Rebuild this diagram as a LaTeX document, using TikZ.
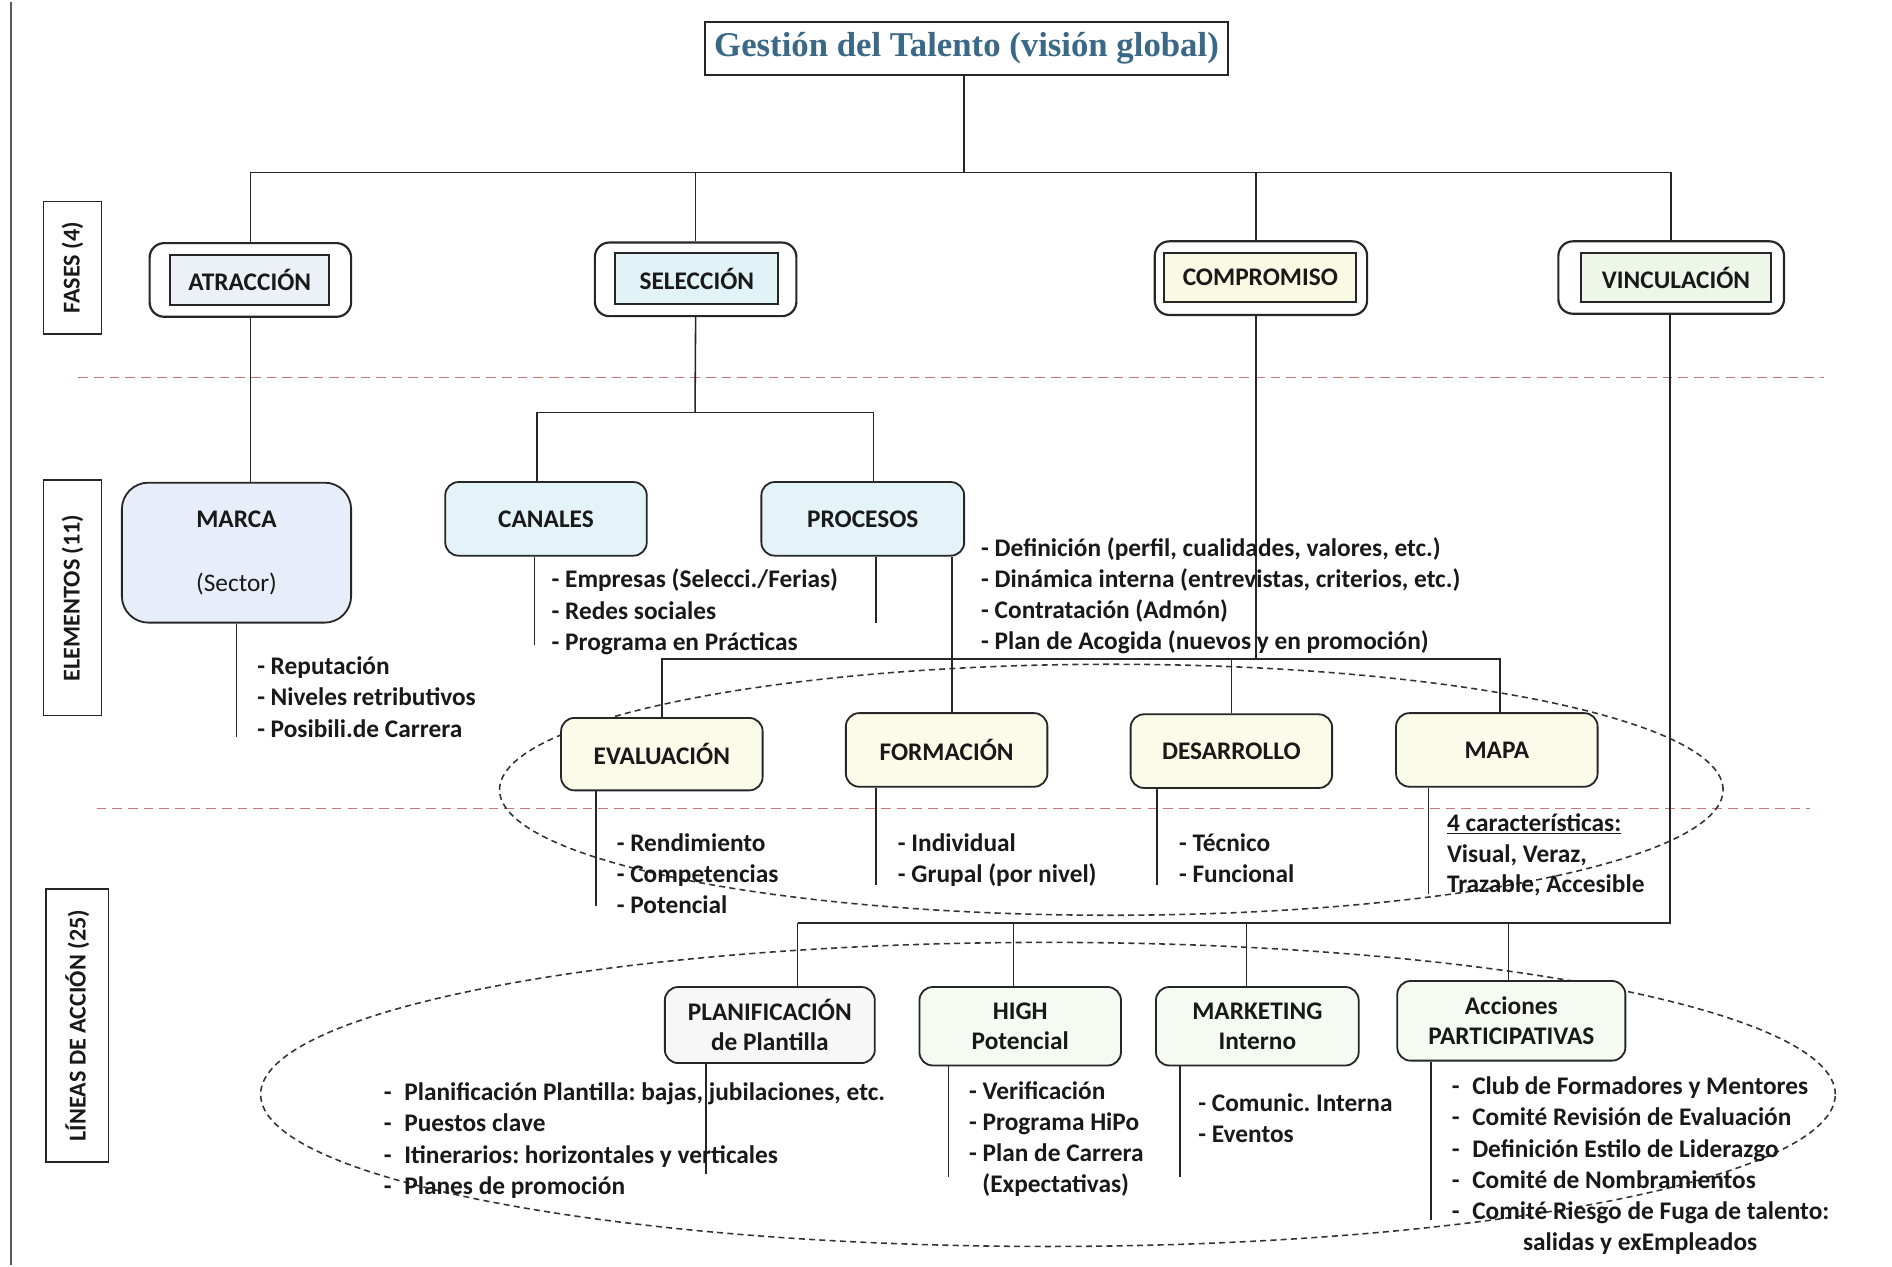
\documentclass[tikz,border=0pt]{standalone}
\usepackage{fontspec}
\setmainfont{Carlito}
\newfontfamily\titlefont{Liberation Serif}
\usetikzlibrary{calc}
\frenchspacing
\definecolor{titleblue}{RGB}{58,104,135}
\definecolor{reddash}{RGB}{196,120,120}
\definecolor{fillatr}{RGB}{236,241,247}
\definecolor{fillsel}{RGB}{226,243,247}
\definecolor{fillcomp}{RGB}{249,249,228}
\definecolor{fillvin}{RGB}{238,246,234}
\definecolor{fillmarca}{RGB}{232,238,249}
\definecolor{fillcan}{RGB}{228,243,247}
\definecolor{fillevl}{RGB}{251,251,234}
\definecolor{fillact}{RGB}{245,250,242}
\begin{document}
\frenchspacing
\begin{tikzpicture}[x=1pt,y=-1pt,
  every node/.style={font=\fontsize{21}{25}\selectfont\bfseries, text=black!90},
  conn/.style={line width=1.3pt, draw=black!85},
  outerbox/.style={draw=black!85, line width=1.8pt, rounded corners=12pt, fill=white, minimum height=61pt, inner sep=0pt},
  innerbox/.style={draw=black!85, line width=1.6pt, minimum height=42pt, inner sep=0pt},
  elbox/.style={draw=black!85, line width=1.5pt, rounded corners=11pt, minimum width=167pt, minimum height=61pt, inner sep=0pt, align=center},
  lst/.style={anchor=north west, inner sep=0pt, align=left, font=\fontsize{21}{25.8}\selectfont\bfseries},
  side/.style={draw=black!85, line width=1.4pt, rotate=90, inner sep=0pt, font=\fontsize{20}{22}\selectfont\bfseries},
  rdash/.style={draw=reddash, line width=1.3pt, dash pattern=on 8pt off 5pt},
  blackdash/.style={draw=black!80, line width=1.3pt, dash pattern=on 5pt off 3.5pt}
]
\useasboundingbox (0,0) rectangle (1568,1050);
\fill[white] (0,0) rectangle (1568,1050);

% left border line
\draw[line width=1.2pt, black!65] (9,2) -- (9,1048);

% side labels
\node[side, minimum width=110pt, minimum height=48pt] (sfases) at (60,222) {FASES (4)};
\node[side, minimum width=195pt, minimum height=48pt] (selem) at (60,495.5) {ELEMENTOS (11)};
\node[side, minimum width=226pt, minimum height=52pt] (slineas) at (64,850) {LÍNEAS DE ACCIÓN (25)};

% red dashed separators
\draw[rdash] (65,313) -- (1512,313);
\draw[rdash] (80,670) -- (1500,670);

% ellipses
\draw[blackdash] (921,654.5) ellipse [x radius=507pt, y radius=104pt];
\draw[blackdash] (868.5,907) ellipse [x radius=652.5pt, y radius=126pt];

% title
\node[draw=black!85, line width=1.6pt, minimum width=434pt, minimum height=44pt, inner sep=0pt,
      font=\titlefont\fontsize{28.8}{30}\selectfont\bfseries, text=titleblue] (title) at (801,40) {\raisebox{-1.5pt}{Gestión del Talento (visión global)}};

% phases
\node[outerbox, minimum width=167pt] (atr) at (207.5,232) {};
\node[innerbox, fill=fillatr, minimum width=132pt] (atri) at (207,232) {ATRACCIÓN};
\node[outerbox, minimum width=167pt] (sel) at (576.5,231.5) {};
\node[innerbox, fill=fillsel, minimum width=135pt] (seli) at (577.5,231) {SELECCIÓN};
\node[outerbox, minimum width=176pt] (comp) at (1045,230.5) {};
\node[innerbox, fill=fillcomp, minimum width=159pt, minimum height=41pt] (compi) at (1044.5,230) {COMPROMISO};
\node[outerbox, minimum width=187pt, minimum height=60pt] (vin) at (1385,230) {};
\node[innerbox, fill=fillvin, minimum width=157pt, minimum height=41pt] (vini) at (1389,230) {VINCULACIÓN};

\coordinate (b1) at (799,143);
\draw[conn] (title.south -| b1) -- (b1);
\draw[conn] (atr.north) |- (b1) -| (vin.north);
\draw[conn] (sel.north) -- (sel.north |- b1);
\coordinate (b1c) at (1041,143);
\draw[conn] (comp.north -| b1c) -- (b1c);

% elements
\node[elbox, minimum width=190pt, minimum height=116pt, rounded corners=22pt, fill=fillmarca] (marca) at (196,458)
  {MARCA\\[28pt]{\mdseries (Sector)}};
\node[elbox, fill=fillcan] (can) at (452.5,430) {CANALES};
\node[elbox, fill=fillcan, minimum width=168pt] (proc) at (715,430) {PROCESOS};

\draw[conn] (atr.south) -- (atr.south |- marca.north);
\coordinate (b2) at (576,342);
\draw[conn] (sel.south) -- (b2);
\draw[conn] ([xshift=-7.5pt]can.north) |- (b2) -| ([xshift=9pt]proc.north);

% evaluation row
\node[elbox, fill=fillevl, minimum height=60pt] (eval) at (548.5,625) {EVALUACIÓN};
\node[elbox, fill=fillevl] (form) at (784.5,621.5) {FORMACIÓN};
\node[elbox, fill=fillevl] (des) at (1020.5,622.5) {DESARROLLO};
\node[elbox, fill=fillevl] (mapa) at (1240.5,621.5) {MAPA};

\coordinate (b3) at (1041,546);
\draw[conn] (comp.south -| b3) -- (b3);
\draw[conn] (eval.north) |- (b3) -| ([xshift=2.5pt]mapa.north);
\draw[conn] (des.north) -- (des.north |- b3);
\draw[conn] ([xshift=74pt]proc.south) -- ([xshift=4.5pt]form.north);

% action row
\node[elbox, fill=white!97!black, minimum width=174pt, minimum height=63pt] (planif) at (638,849.5) {PLANIFICACIÓN\\de Plantilla};
\node[elbox, fill=fillact, minimum height=65pt] (high) at (845.5,850.5) {HIGH\\Potencial};
\node[elbox, fill=fillact, minimum width=168pt, minimum height=65pt] (mkt) at (1042,850.5) {MARKETING\\Interno};
\node[elbox, fill=fillact, minimum width=189pt, minimum height=66pt] (acc) at (1252.5,846) {Acciones\\PARTICIPATIVAS};

\coordinate (b4) at (1384,765);
\coordinate (d1) at (661,765);
\coordinate (d2) at (840,765);
\coordinate (d3) at (1033,765);
\coordinate (d4) at (1250,765);
\draw[conn] (vin.south -| b4) -- (b4) -- (d1);
\draw[conn] (d1) -- (d1 |- planif.north);
\draw[conn] (d2) -- (d2 |- high.north);
\draw[conn] (d3) -- (d3 |- mkt.north);
\draw[conn] (d4) -- (d4 |- acc.north);

% lines below boxes
\draw[conn] (marca.south) -- ++(0,94);
\draw[conn] ([xshift=-9.5pt]can.south) -- ++(0,73);
\draw[conn] ([xshift=11pt]proc.south) -- ++(0,55);
\draw[conn] ([xshift=-54.5pt]eval.south) -- ++(0,95);
\draw[conn] ([xshift=-58.5pt]form.south) -- ++(0,81);
\draw[conn] ([xshift=-61.5pt]des.south) -- ++(0,80);
\draw[conn] ([xshift=-56.5pt]mapa.south) -- ++(0,88);
\draw[conn] ([xshift=-53pt]planif.south) -- ++(0,91);
\draw[conn] ([xshift=-59.5pt]high.south) -- ++(0,92);
\draw[conn] ([xshift=-64pt]mkt.south) -- ++(0,92);
\draw[conn] ([xshift=-66.5pt]acc.south) -- ++(0,131);

% lists
\node[lst] (lmarca) at (213,541) {\strut- Reputación\\- Niveles retributivos\\- Posibili.de Carrera};
\node[lst] (lcan) at (457,469) {\strut- Empresas (Selecci./Ferias)\\- Redes sociales\\- Programa en Prácticas};
\node[lst] (lproc) at (813,443) {\strut- Definición (perfil, cualidades, valores, etc.)\\- Dinámica interna (entrevistas, criterios, etc.)\\- Contratación (Admón)\\- Plan de Acogida (nuevos y en promoción)};
\node[lst] (leval) at (511,687) {\strut- Rendimiento\\- Competencias\\- Potencial};
\node[lst] (lform) at (744,687) {\strut- Individual\\- Grupal (por nivel)};
\node[lst] (ldes) at (977,687) {\strut- Técnico\\- Funcional};
\node[lst, font=\fontsize{21}{25.5}\selectfont\bfseries] (lmapa) at (1199,671) {\strut\underline{4 características:}\\Visual, Veraz,\\Trazable, Accesible};
\node[lst] (lplanif) at (318,894) {\strut-\enspace Planificación Plantilla: bajas, jubilaciones, etc.\\-\enspace Puestos clave\\-\enspace Itinerarios: horizontales y verticales\\-\enspace Planes de promoción};
\node[lst] (lhigh) at (803,893) {\strut- Verificación\\- Programa HiPo\\- Plan de Carrera\\\hspace*{11pt}(Expectativas)};
\node[lst] (lmkt) at (993,903) {\strut- Comunic.\ Interna\\- Eventos};
\node[lst] (lacc) at (1203,889) {\strut-\enspace Club de Formadores y Mentores\\-\enspace Comité Revisión de Evaluación\\-\enspace Definición Estilo de Liderazgo\\-\enspace Comité de Nombramientos\\-\enspace Comité Riesgo de Fuga de talento:\\\hspace*{59pt}salidas y exEmpleados};
\end{tikzpicture}
\end{document}
